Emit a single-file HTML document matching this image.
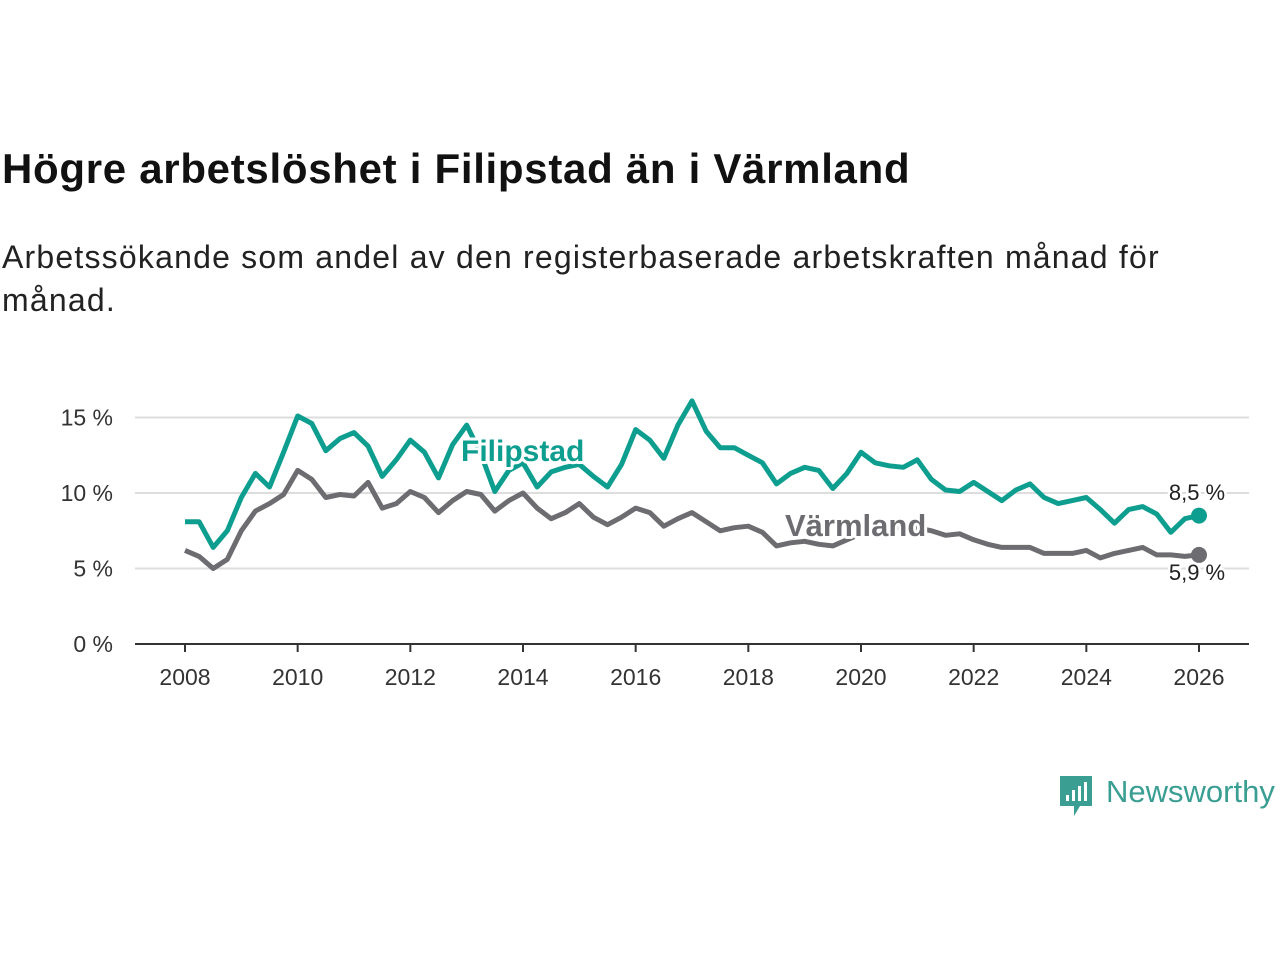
<!DOCTYPE html>
<html><head><meta charset="utf-8">
<style>
body{margin:0;width:1280px;height:960px;background:#fff;font-family:"Liberation Sans",sans-serif;overflow:hidden;position:relative}
h1{position:absolute;left:2px;top:145px;margin:0;font-size:42px;font-weight:bold;color:#111;letter-spacing:0.7px;white-space:nowrap}
p{position:absolute;left:2px;top:236px;margin:0;font-size:32px;line-height:43px;color:#222;width:1200px;letter-spacing:1.2px}
svg{position:absolute;left:0;top:0}
</style></head><body>
<h1>Högre arbetslöshet i Filipstad än i Värmland</h1>
<p>Arbetssökande som andel av den registerbaserade arbetskraften månad för månad.</p>
<svg id="chart" width="1280" height="960"></svg>
<script>
const years=[];for(let i=0;i<=72;i++)years.push(2008+i*0.25);
const filipstad=[8.1,8.1,6.4,7.5,9.7,11.3,10.4,12.7,15.1,14.6,12.8,13.6,14.0,13.1,11.1,12.2,13.5,12.7,11.0,13.2,14.5,12.6,10.1,11.5,12.0,10.4,11.4,11.7,11.9,11.1,10.4,11.9,14.2,13.5,12.3,14.5,16.1,14.1,13.0,13.0,12.5,12.0,10.6,11.3,11.7,11.5,10.3,11.3,12.7,12.0,11.8,11.7,12.2,10.9,10.2,10.1,10.7,10.1,9.5,10.2,10.6,9.7,9.3,9.5,9.7,8.9,8.0,8.9,9.1,8.6,7.4,8.3,8.5];
const varmland=[6.2,5.8,5.0,5.6,7.5,8.8,9.3,9.9,11.5,10.9,9.7,9.9,9.8,10.7,9.0,9.3,10.1,9.7,8.7,9.5,10.1,9.9,8.8,9.5,10.0,9.0,8.3,8.7,9.3,8.4,7.9,8.4,9.0,8.7,7.8,8.3,8.7,8.1,7.5,7.7,7.8,7.4,6.5,6.7,6.8,6.6,6.5,6.9,7.3,7.5,7.7,7.7,7.7,7.5,7.2,7.3,6.9,6.6,6.4,6.4,6.4,6.0,6.0,6.0,6.2,5.7,6.0,6.2,6.4,5.9,5.9,5.8,5.9];
const yTicks=[0,5,10,15];
const xTicks=[2008,2010,2012,2014,2016,2018,2020,2022,2024,2026];
const X=v=>185+(v-2008)*(1199-185)/18;
const Y=v=>644-v*15.1;
const svg=document.getElementById('chart');const NS='http://www.w3.org/2000/svg';
function mk(t,a,txt){const e=document.createElementNS(NS,t);for(const k in a)e.setAttribute(k,a[k]);if(txt!=null)e.textContent=txt;svg.appendChild(e);return e;}
yTicks.forEach(t=>{
 if(t>0){const g=mk('line',{x1:135,x2:1249,y1:Y(t),y2:Y(t),stroke:'#ddd','stroke-width':2});
 
 }
 const l=mk('text',{x:113,y:Y(t)+8,'text-anchor':'end','font-size':23,fill:'#333'},t+' %');
 
 
});
const ax=mk('line',{x1:135,x2:1249,y1:644,y2:644,stroke:'#333','stroke-width':2});


xTicks.forEach(t=>{
 mk('line',{x1:X(t),x2:X(t),y1:644,y2:652,stroke:'#333','stroke-width':2});
 const l=mk('text',{x:X(t),y:685,'text-anchor':'middle','font-size':23,fill:'#333'},t);
 
 
});
function line(data,color,name){
 const d=data.map((v,i)=>(i?'L':'M')+X(years[i]).toFixed(1)+' '+Y(v).toFixed(1)).join(' ');
 const p=mk('path',{d:d,fill:'none',stroke:color,'stroke-width':5,'stroke-linejoin':'round'});
 
 
 const c=mk('circle',{cx:X(years[years.length-1]),cy:Y(data[data.length-1]),r:8,fill:color});
 
 
}
line(varmland,'#6d6c70','varmland');
line(filipstad,'#0e9e8f','filipstad');
function lab(x,y,t,c,n,fs){
 mk('text',{x:x,y:y,'font-size':fs,'font-weight':'bold',fill:'none',stroke:'#fff','stroke-width':6,'stroke-linejoin':'round'},t);
 const e=mk('text',{x:x,y:y,'font-size':fs,'font-weight':'bold',fill:c},t);
 
 
}
lab(461,461,'Filipstad','#0e9e8f','filipstad-label',30);
lab(785,536,'Värmland','#6d6c70','varmland-label',31);
function vl(x,y,t,n){
 mk('text',{x:x,y:y,'font-size':22,'text-anchor':'middle',fill:'none',stroke:'#fff','stroke-width':5},t);
 const e=mk('text',{x:x,y:y,'font-size':22,'text-anchor':'middle',fill:'#222'},t);
 
 
}
vl(1197,500,'8,5 %','filipstad-value-label');
vl(1197,580,'5,9 %','varmland-value-label');
const logo=mk('g',{});


logo.innerHTML='<path d="M1060 776h32v30h-12l-6 10v-10h-14z" fill="#3a9e93"/><rect x="1066" y="795" width="3" height="6" fill="#fff"/><rect x="1072" y="790" width="3" height="11" fill="#fff"/><rect x="1078" y="786" width="3" height="15" fill="#fff"/><rect x="1084" y="782" width="3" height="19" fill="#fff"/><text x="1106" y="802" font-size="31" fill="#3a9e93" font-family="Liberation Sans,sans-serif">Newsworthy</text>';
svg.appendChild(logo);
</script>
</body></html>
